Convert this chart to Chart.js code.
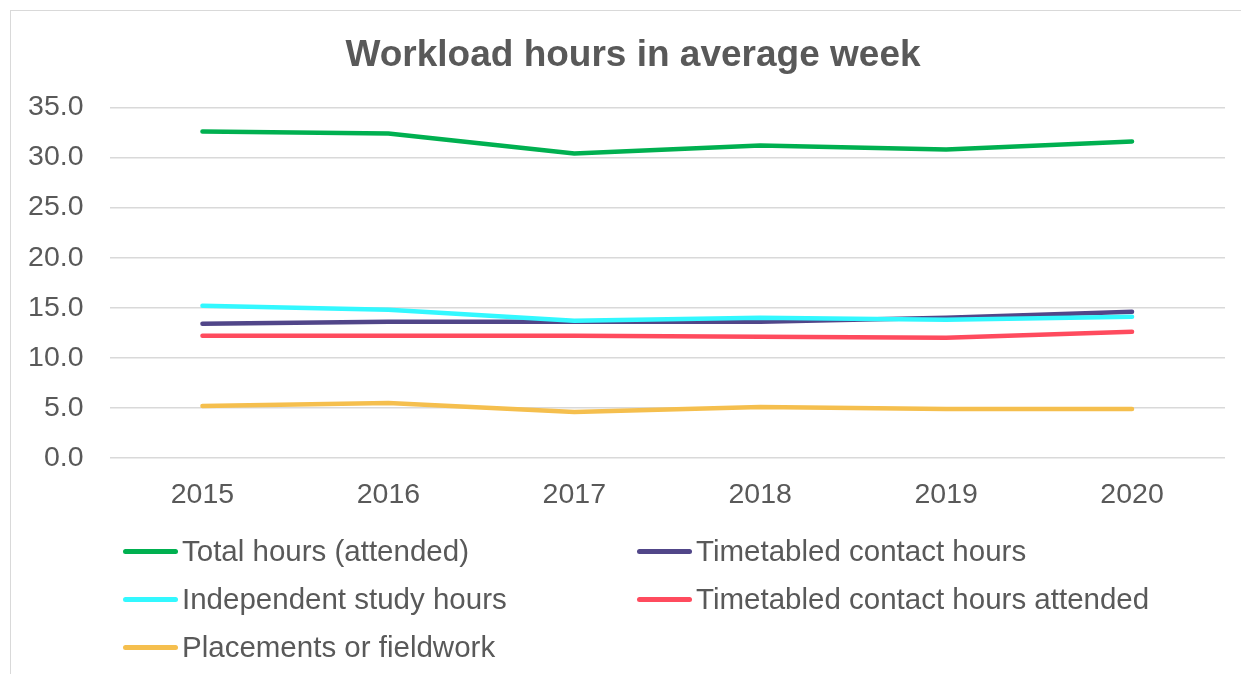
<!DOCTYPE html>
<html>
<head>
<meta charset="utf-8">
<title>Workload hours in average week</title>
<script src="https://cdn.jsdelivr.net/npm/chart.js@4.4.1/dist/chart.umd.min.js"></script>
<style>
  html, body { margin: 0; padding: 0; background: #fff; }
  body { width: 1241px; height: 674px; position: relative; overflow: hidden; font-family: "Liberation Sans", Arial, sans-serif; }
  #frame { position: absolute; left: 10px; top: 10px; width: 1300px; height: 700px; border: 1.5px solid #d9d9d9; box-sizing: border-box; }
  #wrap { position: absolute; left: 0; top: 0; width: 1241px; height: 674px; }
  #legend { position: absolute; left: 123px; top: 527px; display: grid; grid-template-columns: 514px 514px; grid-auto-rows: 48px; }
  .item { display: flex; align-items: center; color: #595959; font-size: 29.5px; white-space: nowrap; }
  .swatch { width: 55px; height: 5px; border-radius: 2.5px; margin-right: 4px; }
</style>
</head>
<body>
<div id="frame"></div>
<div id="wrap"><canvas id="chart" width="1241" height="674"></canvas></div>
<div id="legend"></div>
<script>
// data
const years = ['2015', '2016', '2017', '2018', '2019', '2020'];
const totalHours = [32.6, 32.4, 30.4, 31.2, 30.8, 31.6];
const contactHours = [13.4, 13.6, 13.6, 13.6, 14.0, 14.6];
const independentHours = [15.2, 14.8, 13.7, 14.0, 13.8, 14.1];
const attendedHours = [12.2, 12.2, 12.2, 12.1, 12.0, 12.6];
const placementHours = [5.2, 5.5, 4.6, 5.1, 4.9, 4.9];
const yTicks = [0, 5, 10, 15, 20, 25, 30, 35];

const FONT = '"Liberation Sans", Arial, sans-serif';
const TEXT = '#595959';

const series = [
  { label: 'Total hours (attended)', data: totalHours, color: '#00b050' },
  { label: 'Timetabled contact hours', data: contactHours, color: '#514689' },
  { label: 'Independent study hours', data: independentHours, color: '#33f8ff' },
  { label: 'Timetabled contact hours attended', data: attendedHours, color: '#ff4b5e' },
  { label: 'Placements or fieldwork', data: placementHours, color: '#f5bf4e' }
];

// Excel centres the title a bit right of the canvas middle
const shiftTitle = {
  id: 'shiftTitle',
  afterLayout(chart) {
    if (chart.titleBlock) chart.titleBlock.left += 41;
  }
};

const ctx = document.getElementById('chart');
new Chart(ctx, {
  type: 'line',
  data: {
    labels: years,
    datasets: series.map((s, i) => ({
      label: s.label,
      data: s.data,
      borderColor: s.color,
      backgroundColor: s.color,
      borderWidth: 4.5,
      borderCapStyle: 'round',
      borderJoinStyle: 'round',
      pointRadius: 0,
      tension: 0,
      order: series.length - i  // later series drawn on top, like Excel
    }))
  },
  options: {
    responsive: false,
    animation: false,
    layout: { padding: { left: 0, right: 16, top: 0, bottom: 156 } },
    plugins: {
      legend: { display: false },
      tooltip: { enabled: false },
      title: {
        display: true,
        text: 'Workload hours in average week',
        color: TEXT,
        font: { family: FONT, size: 37, weight: 'bold' },
        padding: { top: 34, bottom: 29 }
      }
    },
    scales: {
      x: {
        offset: true,
        grid: { display: false },
        border: { display: false },
        ticks: { color: TEXT, font: { family: FONT, size: 28.5 }, padding: 12, maxRotation: 0 },
        afterFit: s => { s.height = 60; }
      },
      y: {
        min: 0,
        max: 35,
        afterBuildTicks: s => { s.ticks = yTicks.map(v => ({ value: v })); },
        grid: { color: '#d9d9d9', lineWidth: 1.5, drawTicks: false },
        border: { display: false },
        ticks: { color: TEXT, font: { family: FONT, size: 28.5 }, padding: 26, callback: v => Number(v).toFixed(1) },
        afterFit: s => { s.width = 109.5; }
      }
    }
  },
  plugins: [shiftTitle]
});

// two-column legend like the original
const legend = document.getElementById('legend');
series.forEach(s => {
  const item = document.createElement('div');
  item.className = 'item';
  const sw = document.createElement('span');
  sw.className = 'swatch';
  sw.style.background = s.color;
  const txt = document.createElement('span');
  txt.textContent = s.label;
  item.appendChild(sw);
  item.appendChild(txt);
  legend.appendChild(item);
});
</script>
</body>
</html>
